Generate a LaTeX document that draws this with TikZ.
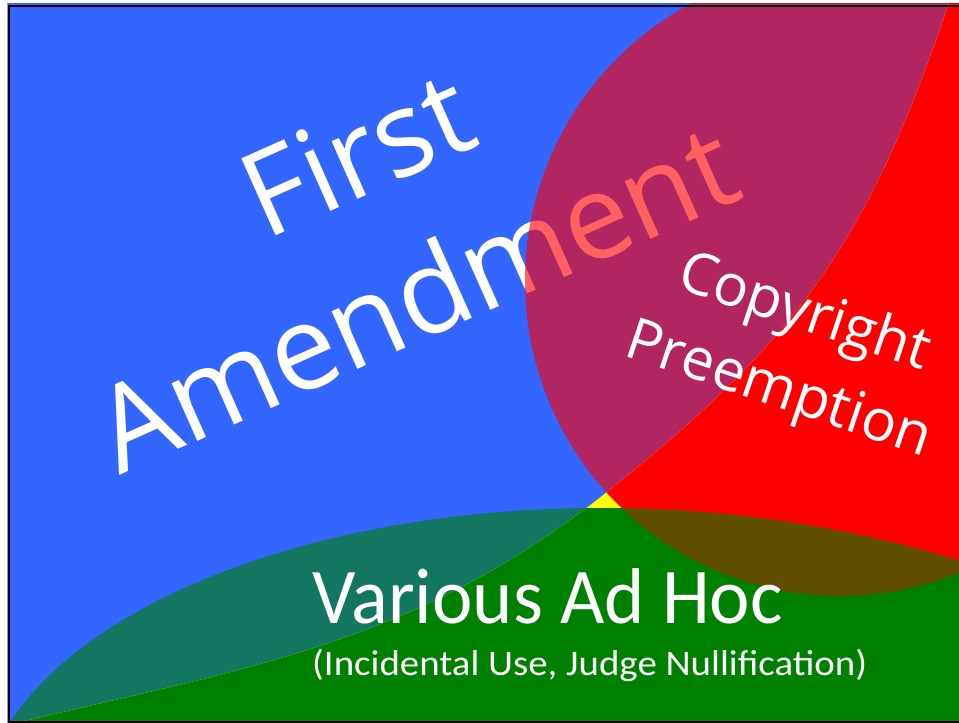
\documentclass[tikz,border=0pt]{standalone}
\usepackage{fontspec}
\newfontfamily\osans{Open Sans}
\newfontfamily\carl{Carlito}
\definecolor{fablue}{HTML}{3366FF}
\definecolor{cpred}{HTML}{FF0000}
\definecolor{adgreen}{HTML}{008000}
\definecolor{olivemix}{HTML}{614F00}
\definecolor{gapyellow}{HTML}{FFFF00}
\tikzset{
  bigtext/.style={inner sep=0pt, anchor=base, text=white, font=\osans\fontsize{118}{118}\selectfont, rotate=24},
  cptext/.style={inner sep=0pt, anchor=base, text=white, font=\osans\fontsize{58}{58}\selectfont, rotate=-18.5},
  adtext/.style={inner sep=0pt, anchor=base west, text=white}
}
\begin{document}
\begin{tikzpicture}[x=1pt,y=-1pt]
\useasboundingbox (0,0) rectangle (959,723);
\clip (0,0) rectangle (959,723);
\fill[white] (0,0) rectangle (959,723);
\begin{scope}
  \clip (7.3,3.5) rectangle (959,723);
  % blue background (First Amendment)
  \fill[fablue] (0,0) rectangle (959,723);
  \node[bigtext] (first) at (374,192) {First};
  \node[bigtext] (amend) at (433,336) {Amendment};
  % overlaps on the blue side
  \begin{scope}
    \clip (-30,-30) -- (955,-30) -- (950,0) .. controls (870,237.5) and (802,337) .. (607,492)
          .. controls (412,647) and (242.5,668) .. (0,727) -- (-30,735) -- cycle;
    \fill[cpred, opacity=0.62] (840,281) circle (315);
    \fill[adgreen, opacity=0.62] (-20,818) arc[start angle=180, end angle=270, x radius=620, y radius=310]
          arc[start angle=-90, end angle=0, x radius=1100, y radius=968] -- (1700,1600) -- (-20,1600) -- cycle;
  \end{scope}
  % the other side
  \begin{scope}
    \clip (985,-30) -- (955,-30) -- (950,0) .. controls (870,237.5) and (802,337) .. (607,492)
          .. controls (412,647) and (242.5,668) .. (0,727) -- (-30,735) -- (985,745) -- cycle;
    \fill[gapyellow] (0,0) rectangle (959,723);
    \fill[cpred] (840,281) circle (315);
    \fill[adgreen] (-20,818) arc[start angle=180, end angle=270, x radius=620, y radius=310]
          arc[start angle=-90, end angle=0, x radius=1100, y radius=968] -- (1700,1600) -- (-20,1600) -- cycle;
    \begin{scope}
      \clip (840,281) circle (315);
      \fill[olivemix] (-20,818) arc[start angle=180, end angle=270, x radius=620, y radius=310]
          arc[start angle=-90, end angle=0, x radius=1100, y radius=968] -- (1700,1600) -- (-20,1600) -- cycle;
    \end{scope}
  \end{scope}
  \node[cptext] (copy) at (799,329) {Copyright};
  \node[cptext] (pre) at (773.5,406) {Preemption};
  \node[adtext, font=\carl\fontsize{79}{79}\selectfont] (adhoc) at (312,623) {\scalebox{0.97}[1]{Various Ad Hoc}};
  \node[adtext, font=\carl\fontsize{36}{36}\selectfont] (sub) at (312,675) {\scalebox{1.08}[1]{(Incidental Use, Judge Nullification)}};
\end{scope}
\draw[black, line width=2.4] (8.7,5.7) rectangle (990,722);
\end{tikzpicture}
\end{document}
